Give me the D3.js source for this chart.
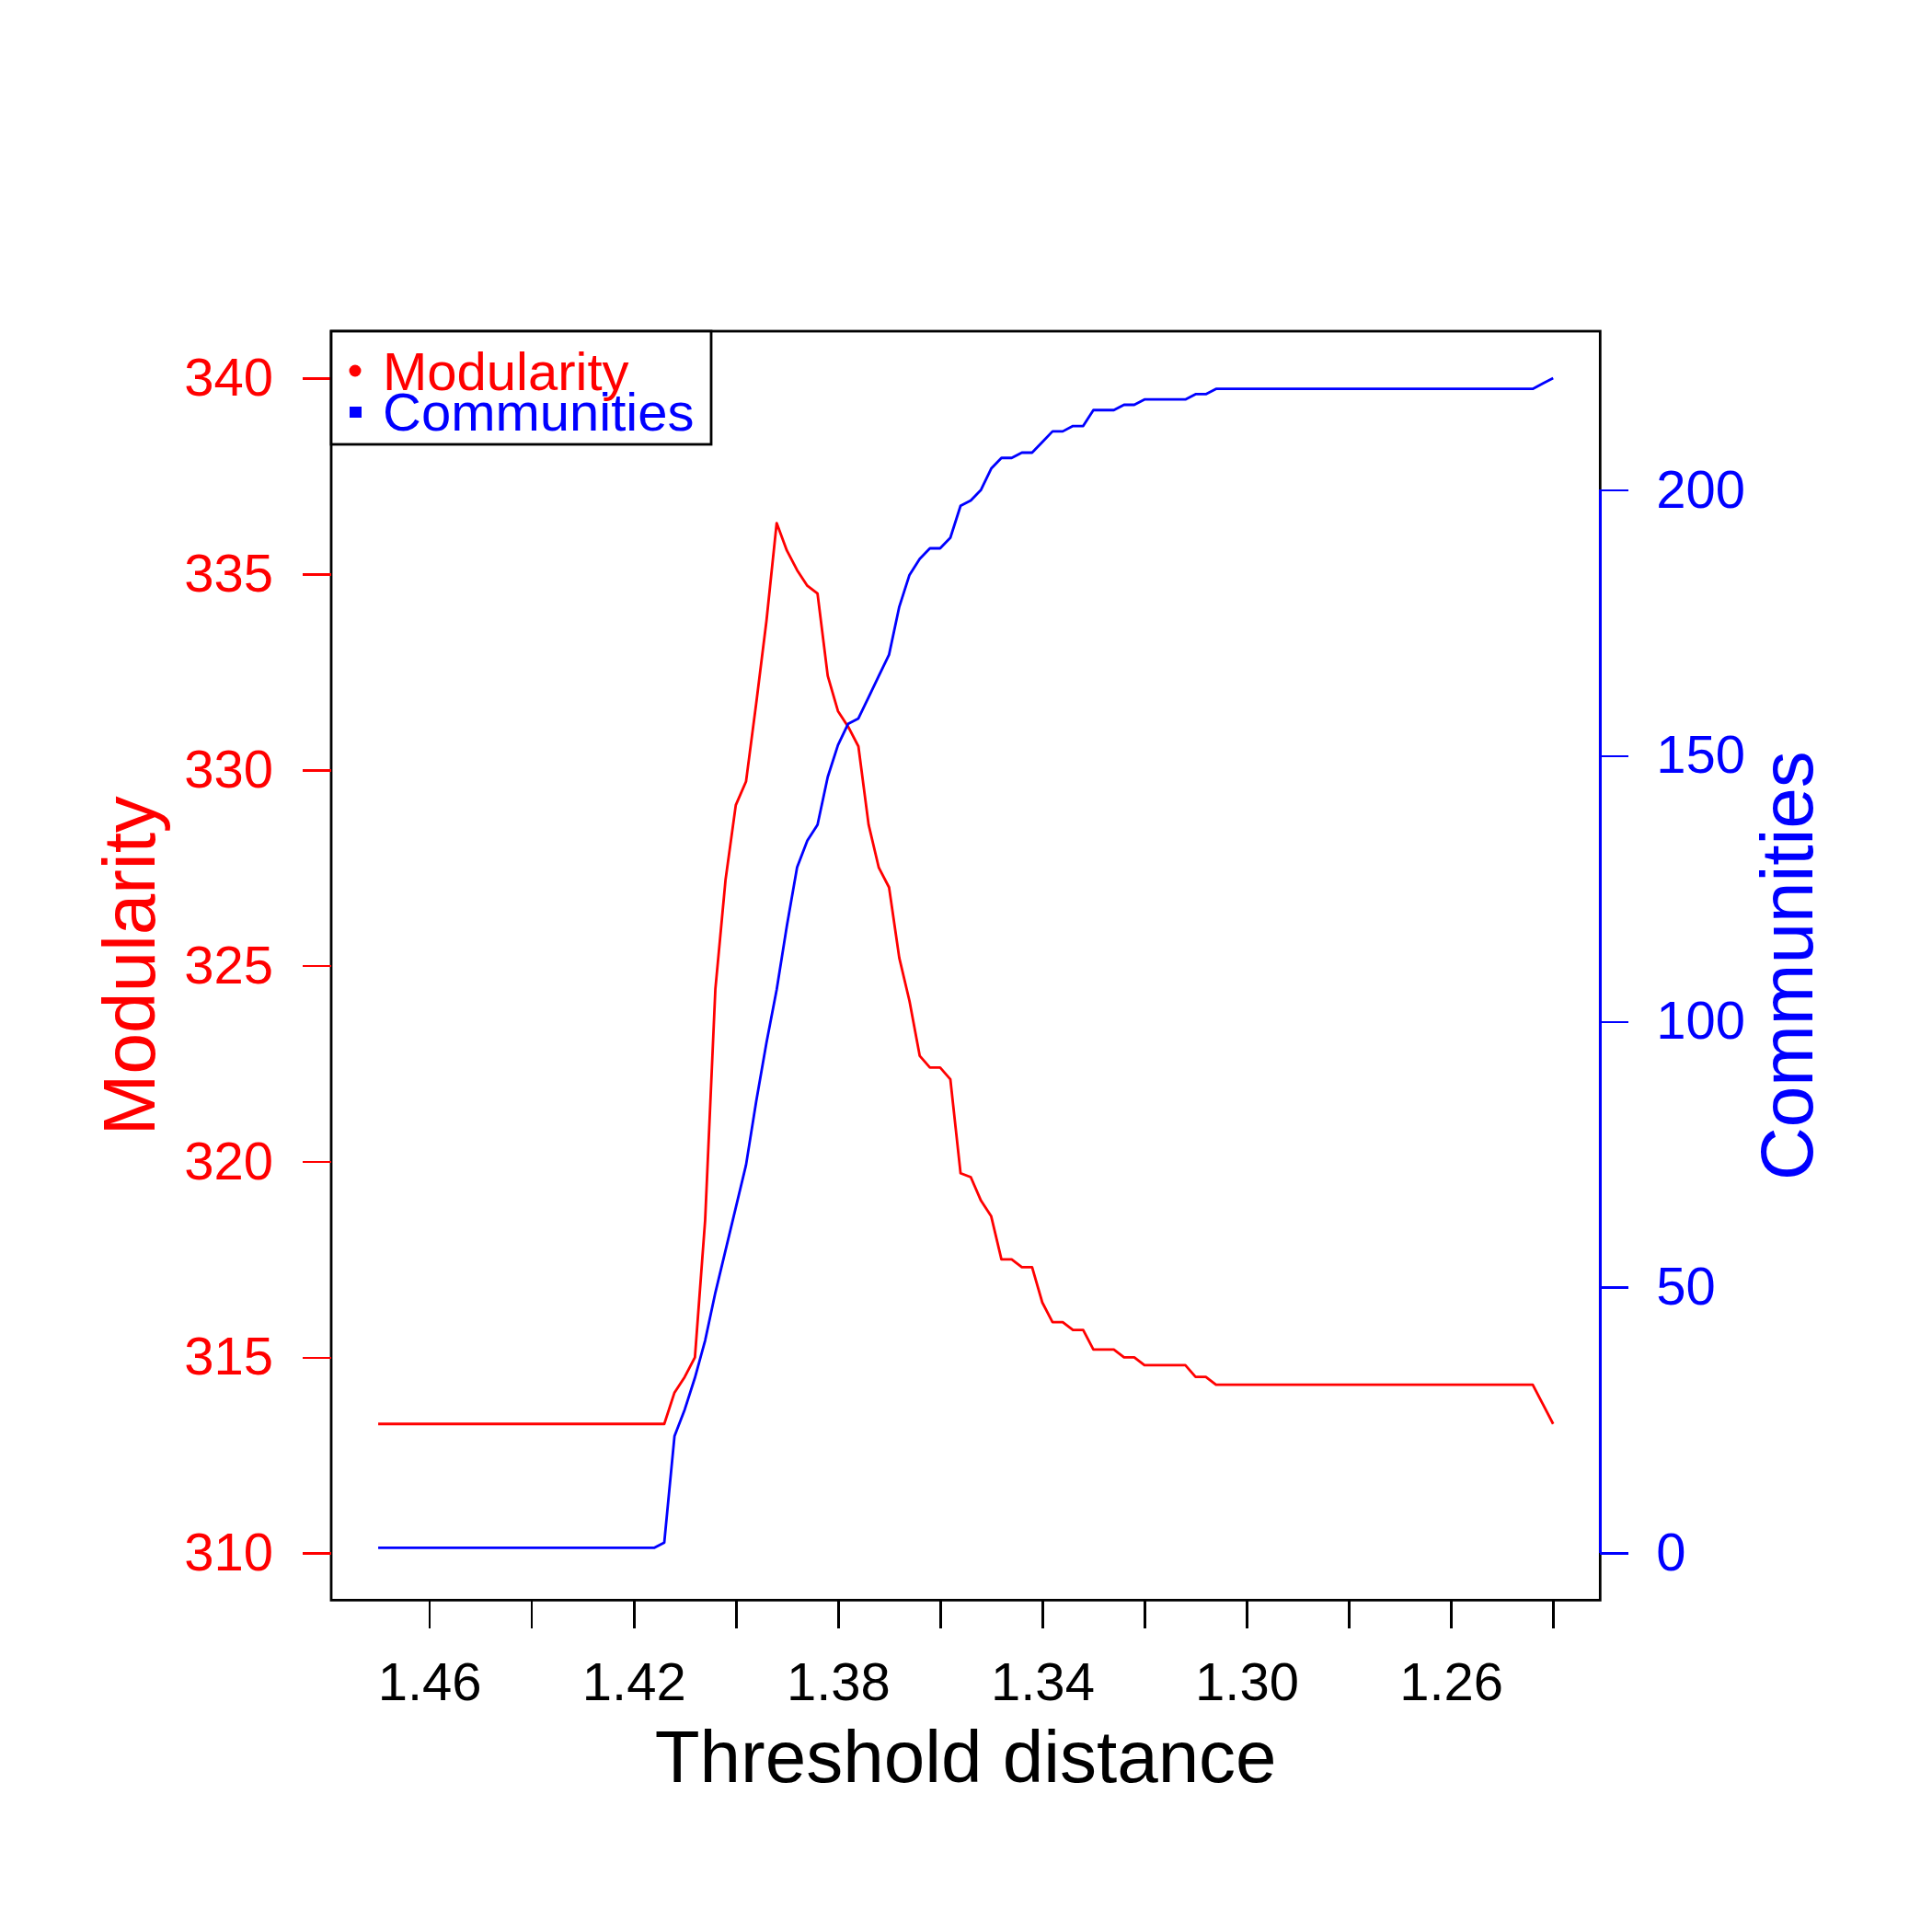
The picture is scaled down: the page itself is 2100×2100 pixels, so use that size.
<!DOCTYPE html>
<html>
<head>
  <meta charset="utf-8">
  <title>Modularity / Communities</title>
  <script type="text/javascript" src="https://cdn.jsdelivr.net/npm/d3@7/dist/d3.min.js"></script>
  <style type="text/css">
    body{margin:0;background:#fff;}
    text{font-family:"Liberation Sans",Arial,sans-serif;}
    .axis line{stroke-width:2.6px;shape-rendering:crispEdges;}
    .axis text{font-size:58px;}
  </style>
</head>
<body>
<script type="text/javascript">
  // threshold distance (x)
  var thresholds = [
    1.470,1.468,1.466,1.464,1.462,1.460,1.458,1.456,1.454,1.452,
    1.450,1.448,1.446,1.444,1.442,1.440,1.438,1.436,1.434,1.432,
    1.430,1.428,1.426,1.424,1.422,1.420,1.418,1.416,1.414,1.412,
    1.410,1.408,1.406,1.404,1.402,1.400,1.398,1.396,1.394,1.392,
    1.390,1.388,1.386,1.384,1.382,1.380,1.378,1.376,1.374,1.372,
    1.370,1.368,1.366,1.364,1.362,1.360,1.358,1.356,1.354,1.352,
    1.350,1.348,1.346,1.344,1.342,1.340,1.338,1.336,1.334,1.332,
    1.330,1.328,1.326,1.324,1.322,1.320,1.318,1.316,1.314,1.312,
    1.310,1.308,1.306,1.304,1.302,1.300,1.298,1.296,1.294,1.292,
    1.290,1.288,1.286,1.284,1.282,1.280,1.278,1.276,1.274,1.272,
    1.270,1.268,1.266,1.264,1.262,1.260,1.258,1.256,1.254,1.252,
    1.250,1.248,1.246,1.244,1.242,1.240];
  // modularity (left axis)
  var modularity = [
    313.3,313.3,313.3,313.3,313.3,313.3,313.3,313.3,313.3,313.3,
    313.3,313.3,313.3,313.3,313.3,313.3,313.3,313.3,313.3,313.3,
    313.3,313.3,313.3,313.3,313.3,313.3,313.3,313.3,313.3,314.1,
    314.5,315.0,318.5,324.4,327.2,329.1,329.7,331.7,333.8,336.3,
    335.6,335.1,334.7,334.5,332.4,331.5,331.1,330.6,328.6,327.5,
    327.0,325.2,324.1,322.7,322.4,322.4,322.1,319.7,319.6,319.0,
    318.6,317.5,317.5,317.3,317.3,316.4,315.9,315.9,315.7,315.7,
    315.2,315.2,315.2,315.0,315.0,314.8,314.8,314.8,314.8,314.8,
    314.5,314.5,314.3,314.3,314.3,314.3,314.3,314.3,314.3,314.3,
    314.3,314.3,314.3,314.3,314.3,314.3,314.3,314.3,314.3,314.3,
    314.3,314.3,314.3,314.3,314.3,314.3,314.3,314.3,314.3,314.3,
    314.3,314.3,314.3,314.3,313.8,313.3];
  // number of communities (right axis)
  var communities = [
    1,1,1,1,1,1,1,1,1,1,
    1,1,1,1,1,1,1,1,1,1,
    1,1,1,1,1,1,1,1,2,22,
    27,33,40,49,57,65,73,85,96,106,
    118,129,134,137,146,152,156,157,161,165,
    169,178,184,187,189,189,191,197,198,200,
    204,206,206,207,207,209,211,211,212,212,
    215,215,215,216,216,217,217,217,217,217,
    218,218,219,219,219,219,219,219,219,219,
    219,219,219,219,219,219,219,219,219,219,
    219,219,219,219,219,219,219,219,219,219,
    219,219,219,219,220,221];

  var xTicks = [1.46,1.44,1.42,1.40,1.38,1.36,1.34,1.32,1.30,1.28,1.26,1.24];
  var xLabels = ["1.46","1.42","1.38","1.34","1.30","1.26"];
  var modTicks = [310,315,320,325,330,335,340];
  var comTicks = [0,50,100,150,200];
  var modLim = [310,340];
  var comLim = [0,221];
  var legendNames = ["Modularity","Communities"];

  var width = 2100, height = 2100;
  var plotL = 360, plotR = 1739.3, plotT = 360, plotB = 1739.3;
  var red = "#ff0000", blue = "#0000ff";

  var svg = d3.select("body").append("svg")
      .attr("width", width)
      .attr("height", height);
  svg.append("rect").attr("width", width).attr("height", height).attr("fill", "#fff");

  // R style 4% padding on each axis
  function pad(lim){ var d = (lim[1]-lim[0])*0.04; return [lim[0]-d, lim[1]+d]; }
  var xExt = pad(d3.extent(thresholds));

  var x = d3.scaleLinear().domain([xExt[1], xExt[0]]).range([plotL, plotR]);
  var yMod = d3.scaleLinear().domain(pad(modLim)).range([plotB, plotT]);
  var yCom = d3.scaleLinear().domain(pad(comLim)).range([plotB, plotT]);

  // lines
  var modLine = d3.line()
      .x(function(d,i){ return x(thresholds[i]); })
      .y(function(d){ return yMod(d); });
  var comLine = d3.line()
      .x(function(d,i){ return x(thresholds[i]); })
      .y(function(d){ return yCom(d); });

  svg.append("path")
     .attr("d", modLine(modularity))
     .attr("fill", "none").attr("stroke", red)
     .attr("stroke-width", 2.8).attr("stroke-linejoin", "round");
  svg.append("path")
     .attr("d", comLine(communities))
     .attr("fill", "none").attr("stroke", blue)
     .attr("stroke-width", 2.8).attr("stroke-linejoin", "round");

  // plot box
  svg.append("rect")
     .attr("x", plotL).attr("y", plotT)
     .attr("width", plotR-plotL).attr("height", plotB-plotT)
     .attr("fill", "none").attr("stroke", "#000").attr("stroke-width", 2.8);

  // x axis
  var xAxis = d3.axisBottom(x)
      .tickValues(xTicks)
      .tickSize(31)
      .tickPadding(37)
      .tickFormat(function(d){
         var s = d3.format(".2f")(d);
         return xLabels.indexOf(s) >= 0 ? s : "";
      });
  var gx = svg.append("g").attr("class","axis")
      .attr("transform","translate(0," + plotB + ")")
      .call(xAxis);
  gx.select(".domain").remove();
  gx.selectAll("line").attr("stroke", "#000");
  gx.selectAll("text").attr("fill", "#000");

  // left axis (modularity)
  var gl = svg.append("g").attr("class","axis")
      .attr("transform","translate(" + plotL + ",0)")
      .call(d3.axisLeft(yMod).tickValues(modTicks).tickSize(31).tickPadding(32));
  gl.select(".domain").remove();
  gl.selectAll("line").attr("stroke", red);
  gl.selectAll("text").attr("fill", red);

  // right axis (communities)
  var gr = svg.append("g").attr("class","axis")
      .attr("transform","translate(" + plotR + ",0)")
      .call(d3.axisRight(yCom).tickValues(comTicks).tickSize(31).tickPadding(30));
  gr.select(".domain").remove();
  gr.selectAll("line").attr("stroke", blue);
  gr.selectAll("text").attr("fill", blue);
  gr.append("line")
     .attr("x1", 0).attr("x2", 0)
     .attr("y1", yCom(comTicks[0])).attr("y2", yCom(comTicks[comTicks.length-1]))
     .attr("stroke", blue).attr("stroke-width", 2.8);

  // axis titles
  svg.append("text")
     .attr("x", (plotL+plotR)/2).attr("y", 1937)
     .attr("text-anchor","middle").attr("font-size", 80).attr("fill", "#000")
     .text("Threshold distance");
  svg.append("text")
     .attr("transform","translate(168," + (plotT+plotB)/2 + ") rotate(-90)")
     .attr("text-anchor","middle").attr("font-size", 80).attr("fill", red)
     .text("Modularity");
  svg.append("text")
     .attr("transform","translate(1970," + (plotT+plotB)/2 + ") rotate(-90)")
     .attr("text-anchor","middle").attr("font-size", 80).attr("fill", blue)
     .text("Communities");

  // legend
  var lg = svg.append("g").attr("transform","translate(" + plotL + "," + plotT + ")");
  lg.append("rect")
     .attr("x", 0).attr("y", 0).attr("width", 413).attr("height", 123)
     .attr("fill", "#fff").attr("stroke", "#000").attr("stroke-width", 2.8);
  lg.append("circle").attr("cx", 26).attr("cy", 43).attr("r", 6.5).attr("fill", red);
  lg.append("rect").attr("x", 20).attr("y", 82).attr("width", 13).attr("height", 12).attr("fill", blue);
  lg.selectAll("text.leg")
     .data(legendNames)
     .enter().append("text")
     .attr("class","leg")
     .attr("x", 56)
     .attr("y", function(d,i){ return 64 + i*44; })
     .attr("font-size", 58)
     .attr("fill", function(d,i){ return i == 0 ? red : blue; })
     .text(function(d){ return d; });
</script>
</body>
</html>
